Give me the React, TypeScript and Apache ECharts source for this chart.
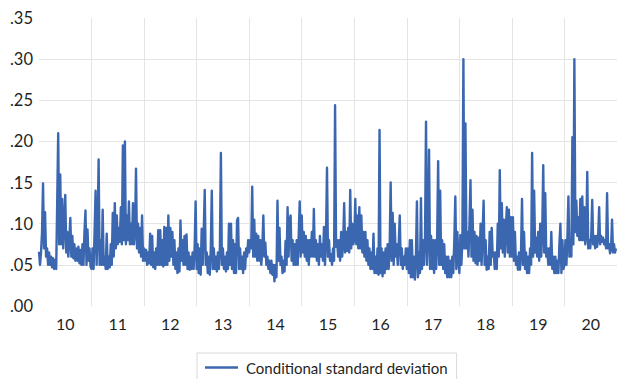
import React, { useEffect, useRef } from "react";
import * as echarts from "echarts";

const yearLabels = ["10", "11", "12", "13", "14", "15", "16", "17", "18", "19", "20"];
const seriesName = "Conditional standard deviation";

// Conditional standard deviation (roughly one reading per pixel column)
const v2010 = [.066, .05, .065, .09, .149, .07, .114, .06, .07, .05, .065, .05, .06, .047, .058, .045, .056, .045, .125, .21, .075, .16, .075, .13, .07, .10, .135, .065, .09, .06, .08, .107, .06, .085, .058, .075, .055, .07, .055, .072, .052, .068, .05, .075, .05, .09, .116, .05, .093, .055, .07, .048];
const v2011 = [.045, .07, .045, .09, .14, .05, .09, .178, .05, .08, .05, .117, .05, .06, .045, .088, .045, .06, .047, .075, .05, .113, .06, .125, .07, .11, .075, .095, .078, .12, .075, .195, .08, .2, .075, .11, .08, .127, .075, .10, .075, .125, .075, .09, .167, .07, .10, .065, .095, .06, .11, .055];
const v2012 = [.07, .055, .068, .05, .065, .052, .088, .05, .085, .047, .065, .045, .07, .05, .092, .05, .092, .05, .08, .048, .096, .05, .095, .05, .11, .055, .095, .06, .09, .05, .08, .045, .065, .04, .07, .042, .104, .055, .08, .05, .085, .05, .087, .045, .065, .044, .06, .045, .065, .045, .07, .127];
const v2013 = [.045, .075, .04, .07, .038, .094, .05, .09, .141, .05, .065, .04, .06, .038, .07, .14, .045, .07, .045, .06, .042, .065, .045, .07, .186, .05, .07, .045, .06, .042, .065, .045, .10, .05, .10, .045, .08, .04, .075, .04, .104, .107, .045, .07, .045, .06, .04, .065, .045, .07, .06, .08];
const v2014 = [.065, .08, .07, .145, .06, .105, .06, .088, .055, .085, .055, .08, .05, .07, .11, .06, .077, .05, .06, .045, .055, .04, .055, .038, .05, .03, .05, .035, .128, .055, .095, .05, .06, .04, .055, .042, .079, .05, .12, .06, .104, .11, .055, .08, .05, .075, .05, .08, .05, .085, .127, .06];
const v2015 = [.11, .065, .09, .06, .085, .055, .08, .05, .08, .06, .09, .06, .118, .06, .08, .055, .075, .05, .085, .06, .075, .055, .096, .05, .08, .168, .06, .08, .055, .063, .05, .07, .055, .244, .072, .08, .06, .08, .055, .09, .06, .075, .125, .065, .09, .067, .095, .065, .141, .07, .10, .075];
const v2016 = [.08, .13, .075, .11, .07, .12, .07, .11, .065, .09, .06, .09, .055, .08, .05, .07, .045, .065, .045, .088, .04, .06, .04, .07, .038, .214, .04, .07, .036, .065, .04, .07, .045, .075, .045, .07, .15, .055, .113, .05, .10, .06, .075, .05, .076, .11, .05, .07, .045, .06, .05, .07];
const v2017 = [.045, .07, .04, .08, .035, .08, .035, .06, .032, .06, .127, .035, .065, .04, .131, .045, .08, .05, .08, .224, .05, .085, .19, .045, .085, .045, .08, .04, .08, .045, .08, .176, .05, .14, .05, .08, .045, .075, .04, .06, .035, .06, .035, .055, .035, .06, .04, .08, .133, .045, .09, .06];
const v2018 = [.04, .086, .05, .08, .30, .07, .222, .07, .09, .06, .10, .153, .06, .117, .055, .09, .052, .085, .05, .083, .055, .10, .05, .09, .128, .05, .08, .044, .06, .045, .09, .05, .095, .06, .065, .045, .065, .045, .10, .06, .165, .07, .125, .065, .105, .06, .095, .12, .065, .117, .06, .108];
const v2019 = [.06, .108, .055, .09, .05, .06, .044, .065, .044, .065, .13, .05, .09, .045, .065, .04, .06, .04, .07, .05, .186, .06, .14, .065, .083, .06, .09, .055, .10, .06, .09, .171, .065, .137, .06, .07, .05, .07, .05, .09, .045, .06, .04, .06, .04, .055, .04, .075, .10, .04, .08, .045];
const v2020 = [.05, .08, .05, .085, .133, .06, .075, .06, .205, .075, .30, .09, .128, .085, .108, .08, .13, .08, .133, .08, .12, .075, .085, .163, .07, .08, .07, .085, .129, .075, .085, .07, .085, .072, .085, .12, .075, .085, .078, .083, .075, .08, .07, .137, .07, .075, .064, .07, .105, .065, .075, .065, .07];

const yearValues = [v2010, v2011, v2012, v2013, v2014, v2015, v2016, v2017, v2018, v2019, v2020];

export default function App() {
  const ref = useRef<HTMLDivElement>(null);

  useEffect(() => {
    if (!ref.current) return;
    const chart = echarts.init(ref.current, undefined, { renderer: "svg" });
    const data: [number, number][] = [];
    yearValues.forEach((arr, k) => {
      arr.forEach((v, i) => data.push([k + i / arr.length, v]));
    });
    const font = "Lato, 'Open Sans', sans-serif";
    chart.setOption({
      animation: false,
      backgroundColor: "#ffffff",
      grid: { left: 39, right: 0, top: 18, bottom: 73, containLabel: false },
      xAxis: [
        {
          type: "category",
          data: yearLabels,
          boundaryGap: true,
          axisLine: { show: false },
          axisTick: { show: false },
          axisLabel: { color: "#1f1f1f", fontFamily: font, fontSize: 16, margin: 9 },
          splitLine: {
            show: true,
            showMinLine: false,
            showMaxLine: false,
            lineStyle: { color: "#e4e4e4", width: 1 },
          },
        },
        {
          type: "value",
          min: 0,
          max: 11,
          show: false,
        },
      ],
      yAxis: {
        type: "value",
        min: 0,
        max: 0.35,
        interval: 0.05,
        axisLine: { show: false },
        axisTick: { show: false },
        axisLabel: {
          color: "#1f1f1f",
          fontFamily: font,
          fontSize: 16.5,
          margin: 6,
          formatter: (v: number) => v.toFixed(2).replace(/^0/, ""),
        },
        splitLine: {
          show: true,
          showMinLine: false,
          showMaxLine: false,
          lineStyle: { color: "#e4e4e4", width: 1 },
        },
      },
      legend: {
        show: true,
        data: [seriesName],
        left: 197,
        top: 353,
        padding: [7, 9, 12, 8],
        borderColor: "#d9d9d9",
        borderWidth: 1,
        icon: "rect",
        itemWidth: 33,
        itemHeight: 2.5,
        textStyle: { color: "#1f1f1f", fontFamily: font, fontSize: 15, padding: [0, 0, 0, 3] },
      },
      series: [
        {
          name: seriesName,
          type: "line",
          xAxisIndex: 1,
          data,
          symbol: "none",
          showSymbol: false,
          lineStyle: { color: "#3b67b1", width: 2.4, join: "round" },
          itemStyle: { color: "#3b67b1" },
        },
      ],
    });
    return () => chart.dispose();
  }, []);

  return (
    <div
      ref={ref}
      style={{ position: "absolute", left: 0, top: 0, width: 617, height: 379 }}
    />
  );
}
